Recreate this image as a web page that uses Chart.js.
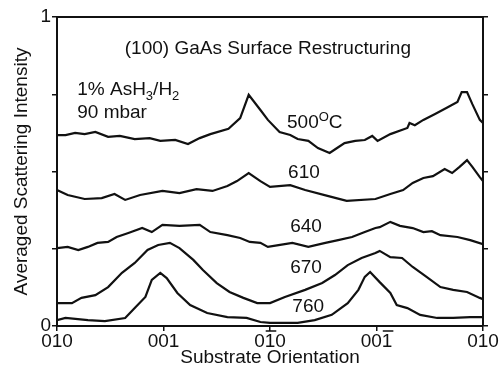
<!DOCTYPE html>
<html>
<head>
<meta charset="utf-8">
<script src="https://cdn.jsdelivr.net/npm/chart.js@4/dist/chart.umd.min.js"></script>
<style>
html, body { margin: 0; padding: 0; background: #fff; }
#wrap { width: 499px; height: 373px; }
</style>
</head>
<body>
<div id="wrap"><canvas id="chart"></canvas></div>
<script>
// orientation tick labels; barred marks which ones carry an overbar on the "1"
const orientLabels = ["010", "001", "010", "001", "010"];
const orientBarred = [false, false, true, true, false];
const temps = ["500", "610", "640", "670", "760"];

// [orientation position 0..4, averaged scattering intensity]
const t500 = [[0,0.618],[0.08,0.618],[0.17,0.625],[0.26,0.621],[0.36,0.628],[0.48,0.612],[0.59,0.615],
  [0.73,0.605],[0.87,0.608],[0.97,0.599],[1.11,0.602],[1.23,0.589],[1.34,0.608],[1.44,0.621],[1.61,0.638],
  [1.72,0.673],[1.80,0.748],[1.91,0.699],[1.98,0.667],[2.09,0.628],[2.19,0.618],[2.26,0.605],[2.36,0.599],
  [2.45,0.576],[2.56,0.560],[2.63,0.576],[2.70,0.592],[2.80,0.599],[2.89,0.602],[2.96,0.615],[3.01,0.599],
  [3.13,0.621],[3.29,0.641],[3.31,0.657],[3.36,0.650],[3.44,0.667],[3.55,0.686],[3.66,0.706],[3.76,0.725],
  [3.80,0.757],[3.85,0.757],[3.90,0.718],[3.97,0.667],[4.00,0.657]];

const t610 = [[0,0.440],[0.10,0.424],[0.26,0.411],[0.42,0.414],[0.54,0.427],[0.64,0.408],[0.78,0.424],
  [0.99,0.437],[1.15,0.430],[1.31,0.443],[1.46,0.437],[1.60,0.453],[1.69,0.469],[1.80,0.495],[1.91,0.469],
  [2.00,0.450],[2.19,0.456],[2.33,0.440],[2.54,0.421],[2.72,0.405],[2.99,0.411],[3.13,0.427],[3.25,0.440],
  [3.34,0.463],[3.44,0.479],[3.53,0.485],[3.64,0.508],[3.71,0.495],[3.78,0.515],[3.85,0.537],[3.90,0.515],
  [3.97,0.482],[4.00,0.469]];

const t640 = [[0,0.252],[0.10,0.256],[0.20,0.246],[0.29,0.256],[0.38,0.269],[0.48,0.272],[0.56,0.288],
  [0.67,0.301],[0.80,0.317],[0.89,0.304],[0.99,0.327],[1.15,0.324],[1.34,0.327],[1.44,0.304],[1.60,0.294],
  [1.72,0.285],[1.81,0.272],[1.91,0.269],[1.98,0.256],[2.08,0.262],[2.21,0.269],[2.36,0.256],[2.52,0.269],
  [2.64,0.278],[2.77,0.288],[2.89,0.304],[2.99,0.317],[3.03,0.320],[3.13,0.337],[3.22,0.324],[3.34,0.317],
  [3.44,0.304],[3.52,0.307],[3.60,0.294],[3.76,0.288],[3.88,0.278],[4.00,0.265]];

const t670 = [[0,0.074],[0.14,0.074],[0.23,0.091],[0.36,0.100],[0.48,0.126],[0.61,0.172],[0.73,0.204],
  [0.85,0.246],[0.95,0.262],[1.06,0.269],[1.15,0.252],[1.28,0.214],[1.37,0.181],[1.50,0.139],[1.62,0.110],
  [1.75,0.091],[1.88,0.074],[2.00,0.074],[2.14,0.094],[2.33,0.117],[2.49,0.139],[2.61,0.165],[2.73,0.197],
  [2.86,0.220],[2.99,0.236],[3.03,0.243],[3.13,0.223],[3.24,0.220],[3.34,0.191],[3.47,0.159],[3.60,0.126],
  [3.72,0.117],[3.85,0.110],[3.97,0.091],[4.00,0.087]];

const t760 = [[0,0.019],[0.08,0.026],[0.29,0.019],[0.45,0.016],[0.64,0.026],[0.73,0.058],[0.83,0.094],
  [0.89,0.149],[0.97,0.172],[1.03,0.155],[1.13,0.107],[1.25,0.068],[1.41,0.042],[1.60,0.029],[1.78,0.026],
  [1.91,0.013],[2.00,0.010],[2.26,0.010],[2.42,0.019],[2.58,0.036],[2.73,0.074],[2.83,0.117],[2.89,0.159],
  [2.94,0.175],[3.03,0.142],[3.13,0.107],[3.19,0.068],[3.29,0.058],[3.41,0.036],[3.57,0.026],[3.72,0.026],
  [3.88,0.029],[4.00,0.029]];

const series = [t500, t610, t640, t670, t760];

const FONT = "'Liberation Sans', Arial, Helvetica, sans-serif";
const INK = "#111";

// draw text pieces with sub/superscripts, left aligned
function drawParts(ctx, parts, x, y) {
  let cx = x;
  parts.forEach(([txt, kind]) => {
    const size = kind ? 13 : 19;
    const dy = kind === "sub" ? 6 : kind === "sup" ? -6 : 0;
    ctx.font = size + "px " + FONT;
    ctx.fillText(txt, cx, y + dy);
    cx += ctx.measureText(txt).width;
  });
}

const notes = {
  id: "notes",
  afterDraw(chart) {
    const { ctx, scales: { x, y } } = chart;
    ctx.save();
    ctx.fillStyle = INK;
    ctx.strokeStyle = INK;
    ctx.textBaseline = "middle";
    ctx.textAlign = "center";
    ctx.font = "19px " + FONT;
    ctx.fillText("(100) GaAs Surface Restructuring", x.getPixelForValue(1.98), y.getPixelForValue(0.896));

    // overbars on the negative indices of the orientation labels
    ctx.lineWidth = 1.5;
    orientLabels.forEach((lab, i) => {
      if (!orientBarred[i]) return;
      const w = ctx.measureText(lab).width;
      const pos = lab.indexOf("1");
      const x0 = x.getPixelForValue(i) - w / 2 + ctx.measureText(lab.slice(0, pos)).width;
      const w1 = ctx.measureText("1").width;
      const yb = x.top + 5;
      ctx.beginPath();
      ctx.moveTo(x0 + 1, yb);
      ctx.lineTo(x0 + w1 + 1, yb);
      ctx.stroke();
    });

    ctx.textAlign = "left";
    drawParts(ctx, [["1% AsH", null], ["3", "sub"], ["/H", null], ["2", "sub"]],
      x.getPixelForValue(0.19), y.getPixelForValue(0.764));
    drawParts(ctx, [["90 mbar", null]], x.getPixelForValue(0.19), y.getPixelForValue(0.689));

    drawParts(ctx, [[temps[0], null], ["O", "sup"], ["C", null]],
      x.getPixelForValue(2.16), y.getPixelForValue(0.657));
    const labelY = [0.495, 0.320, 0.188, 0.061];
    const labelX = [2.17, 2.19, 2.19, 2.21];
    for (let i = 1; i < temps.length; i++) {
      drawParts(ctx, [[temps[i], null]], x.getPixelForValue(labelX[i - 1]), y.getPixelForValue(labelY[i - 1]));
    }
    ctx.restore();
  }
};

new Chart(document.getElementById("chart"), {
  type: "line",
  data: {
    datasets: series.map((s, i) => ({
      label: temps[i],
      data: s.map(p => ({ x: p[0], y: p[1] })),
      borderColor: INK,
      borderWidth: 2.2,
      pointRadius: 0,
      tension: 0,
      fill: false
    }))
  },
  options: {
    responsive: true,
    maintainAspectRatio: false,
    animation: false,
    layout: { padding: 0 },
    plugins: { legend: { display: false }, tooltip: { enabled: false } },
    scales: {
      x: {
        type: "linear",
        min: 0,
        max: 4,
        afterFit: s => { s.height = 47; },
        ticks: {
          stepSize: 1,
          padding: -1,
          color: INK,
          maxRotation: 0,
          font: { family: FONT, size: 19 },
          callback: v => orientLabels[v]
        },
        grid: { drawOnChartArea: false, tickLength: 5, color: INK, lineWidth: 1.5 },
        border: { color: INK, width: 2 },
        title: {
          display: true,
          text: "Substrate Orientation",
          color: INK,
          font: { family: FONT, size: 19 },
          padding: { top: 0, bottom: 4 }
        }
      },
      xTop: {
        type: "linear",
        position: "top",
        min: 0,
        max: 4,
        afterFit: s => { s.height = 17; },
        ticks: { display: false },
        grid: { display: false },
        border: { color: INK, width: 2 }
      },
      y: {
        min: 0,
        max: 1,
        afterFit: s => { s.width = 57; },
        ticks: {
          stepSize: 0.25,
          padding: 1,
          color: INK,
          font: { family: FONT, size: 19 },
          callback: v => (v === 0 || v === 1) ? String(v) : ""
        },
        grid: { drawOnChartArea: false, tickLength: 5, color: INK, lineWidth: 1.5 },
        border: { color: INK, width: 2 },
        title: {
          display: true,
          text: "Averaged Scattering Intensity",
          color: INK,
          font: { family: FONT, size: 19 },
          padding: { top: 10, bottom: 0 }
        }
      },
      yRight: {
        position: "right",
        min: 0,
        max: 1,
        afterFit: s => { s.width = 16; },
        ticks: { stepSize: 0.25, display: false },
        grid: { drawOnChartArea: false, tickLength: 5, color: INK, lineWidth: 1.5 },
        border: { color: INK, width: 2 }
      }
    }
  },
  plugins: [notes]
});
</script>
</body>
</html>
